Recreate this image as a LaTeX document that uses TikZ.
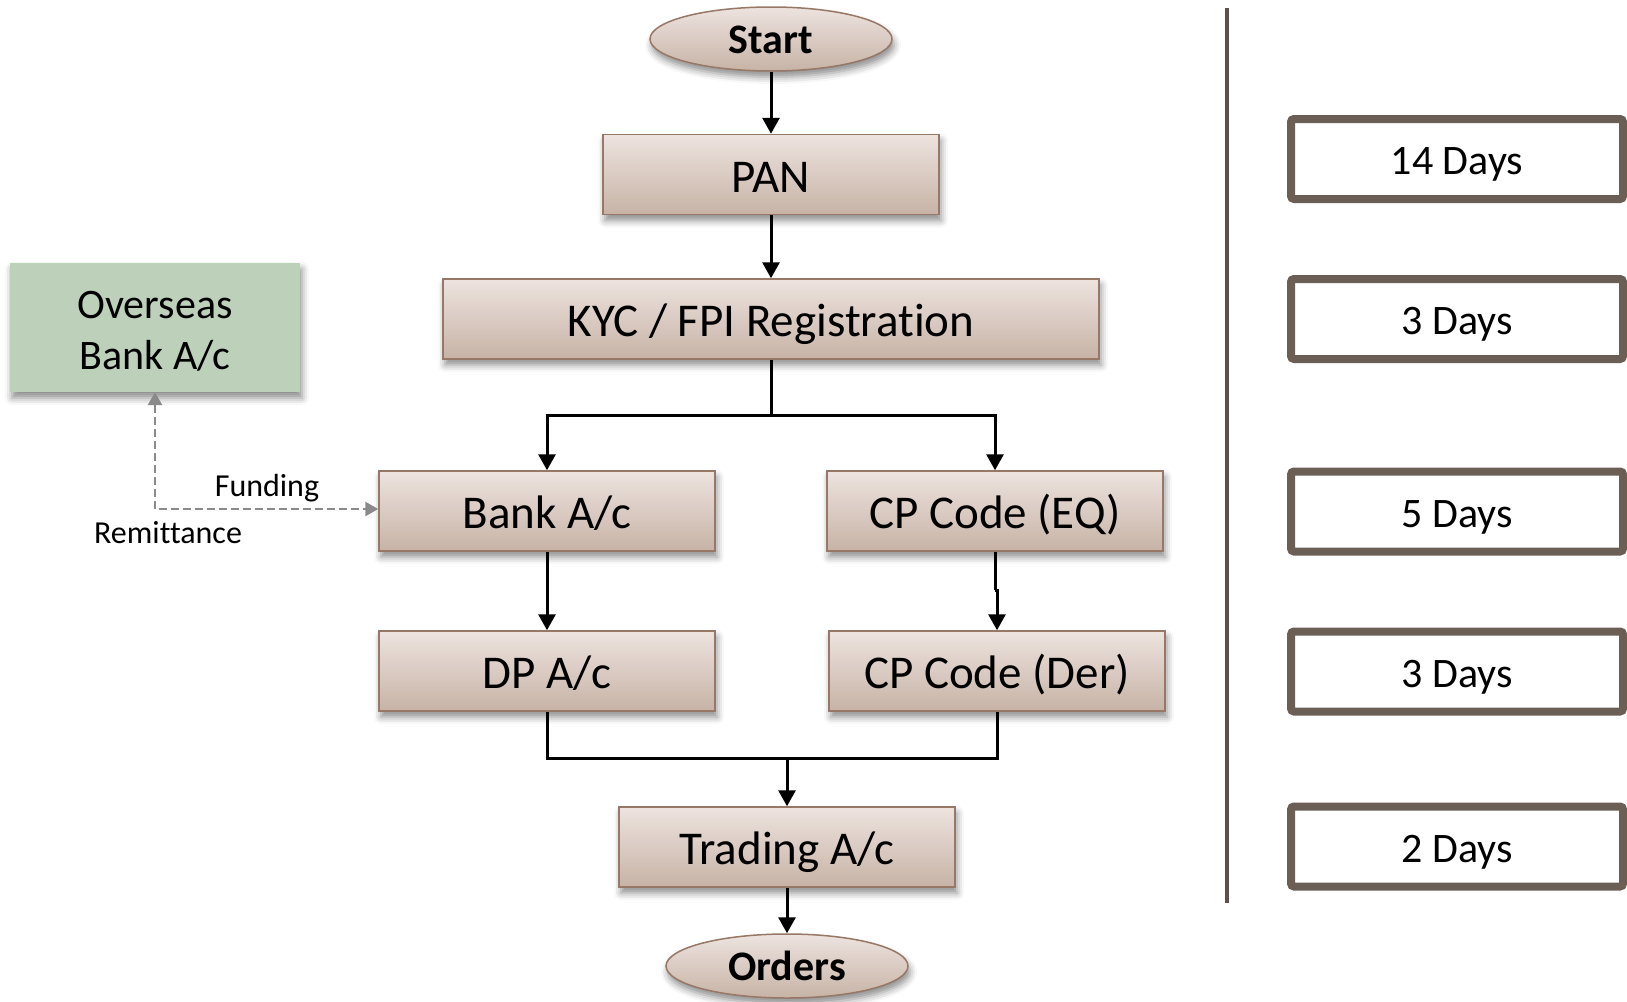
\documentclass[tikz,border=0pt]{standalone}
\usepackage{fontspec}
\setmainfont{Carlito}[Ligatures=NoCommon]
\usetikzlibrary{shapes.geometric,arrows.meta,shadows.blur}
\definecolor{boxtop}{HTML}{EDE3DF}
\definecolor{boxbot}{HTML}{C7B3A6}
\definecolor{boxborder}{HTML}{977866}
\definecolor{greenfill}{HTML}{BCD0BA}
\definecolor{dayborder}{HTML}{6B5E55}
\definecolor{vline}{HTML}{5B504A}
\definecolor{dashgray}{HTML}{8A8A8A}
\tikzset{
  softshadow/.style={blur shadow={shadow xshift=2pt, shadow yshift=-6pt, shadow blur radius=7pt, shadow opacity=45}},
  procbox/.style={draw=boxborder, line width=1.5pt, top color=boxtop, bottom color=boxbot,
    minimum width=336pt, minimum height=80pt, inner sep=0pt,
    font=\fontsize{47}{56}\selectfont, text height=35pt, text depth=0pt, softshadow},
  termnode/.style={ellipse, draw=boxborder, line width=1.5pt, top color=boxtop, bottom color=boxbot,
    minimum width=242pt, minimum height=64pt, inner sep=0pt,
    font=\fontsize{42}{50}\selectfont\bfseries, text height=29pt, text depth=0pt, softshadow},
  daybox/.style={draw=dayborder, line width=8pt, rounded corners=3pt, fill=white,
    minimum width=332pt, minimum height=80pt, inner sep=0pt,
    font=\fontsize{42}{50}\selectfont, text height=31pt, text depth=0pt},
  arr/.style={line width=3pt, -{Triangle[width=17pt,length=16pt]}},
  plainline/.style={line width=3pt},
  dasharr/.style={draw=dashgray, line width=2.8pt, dash pattern=on 8pt off 4pt,
    {Triangle[width=14pt,length=13pt]}-{Triangle[width=14pt,length=13pt]}},
  lbl/.style={font=\fontsize{32}{38}\selectfont, inner sep=0pt, anchor=base}
}
\begin{document}
\begin{tikzpicture}[x=1pt,y=-1pt]
\useasboundingbox (0,0) rectangle (1627,1001);

% main flow
\node[termnode] (start) at (771,39) {Start};
\node[procbox] (pan) at (771,174.5) {PAN};
\node[procbox, minimum width=656pt] (kyc) at (771,319) {KYC / FPI Registration};
\node[procbox] (bank) at (547,511) {Bank A/c};
\node[procbox] (eq) at (995,511) {CP Code (EQ)};
\node[procbox] (dp) at (547,671) {DP A/c};
\node[procbox] (der) at (997,671) {CP Code (Der)};
\node[procbox] (trading) at (787,847) {Trading A/c};
\node[termnode] (orders) at (787,966) {Orders};

% overseas
\node[fill=greenfill, minimum width=290pt, minimum height=129pt, inner sep=0pt, align=center,
      font=\fontsize{42}{51}\selectfont, softshadow] (over) at (155,327.5) {\rule{0pt}{35pt}Overseas\\Bank A/c};

% connectors
\coordinate (j1) at (771,415);
\coordinate (j2) at (995,590);
\coordinate (j3) at (787,758);
\draw[arr] (start) -- (pan);
\draw[arr] (pan) -- (kyc);
\draw[plainline] (kyc.south) -- (j1);
\draw[arr] (j1) -| (bank.north);
\draw[arr] (j1) -| (eq.north);
\draw[arr] (bank) -- (dp);
\draw[plainline] (eq.south) -- (j2);
\draw[arr] (j2) -| (der.north);
\draw[plainline] (dp.south) |- (j3);
\draw[plainline] (der.south) |- (j3);
\draw[arr] (j3) -- (trading.north);
\draw[arr] (trading) -- (orders);

% dashed funding link
\coordinate (corner) at (155,509);
\draw[dasharr] (over.south) -- (corner) -- (bank.west |- corner);
\node[lbl] (funding) at (267,496) {Funding};
\node[lbl] (remit) at (168,543) {Remittance};

% divider
\draw[line width=4pt, draw=vline] (1227,8) -- (1227,903);

% day boxes
\node[daybox] (d1) at (1457,159) {14 Days};
\node[daybox] (d2) at (1457,319) {3 Days};
\node[daybox] (d3) at (1457,511.5) {5 Days};
\node[daybox] (d4) at (1457,671.5) {3 Days};
\node[daybox] (d5) at (1457,846.5) {2 Days};
\end{tikzpicture}
\end{document}
